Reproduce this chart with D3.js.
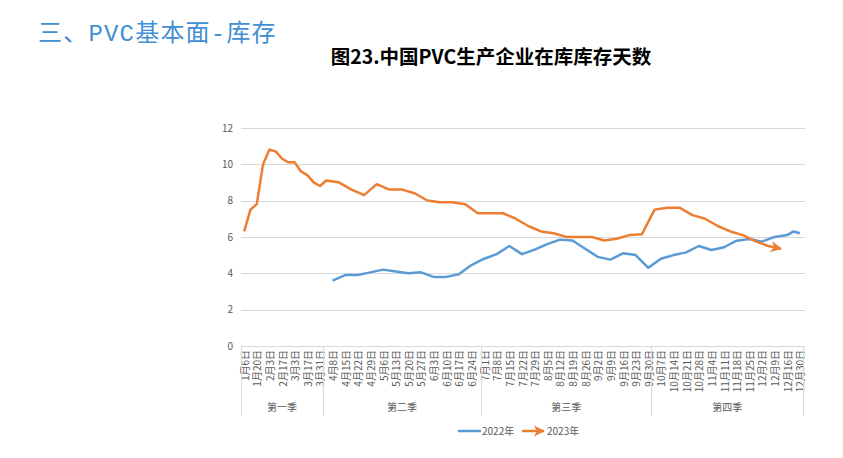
<!DOCTYPE html>
<html><head><meta charset="utf-8">
<script src="https://cdn.jsdelivr.net/npm/d3@7"></script>
<style>
html,body{margin:0;padding:0;background:#fff;}
svg{display:block;font-family:"Noto Sans CJK SC","Noto Sans",sans-serif;}
</style></head>
<body>
<svg id="chart" width="843" height="458"></svg>
<script>
// merged weekly category list (2023 and 2022 report dates)
const categories = [
 "1月6日","1月13日","1月20日","1月27日","2月3日","2月10日","2月17日","2月24日","3月3日","3月10日","3月17日","3月24日","3月31日",
 "4月7日","4月8日","4月14日","4月15日","4月21日","4月22日","4月28日","4月29日","5月5日","5月6日","5月12日","5月13日","5月19日","5月20日","5月26日","5月27日","6月2日","6月3日","6月9日","6月10日","6月16日","6月17日","6月23日","6月24日","6月30日",
 "7月1日","7月7日","7月8日","7月14日","7月15日","7月21日","7月22日","7月28日","7月29日","8月4日","8月5日","8月11日","8月12日","8月18日","8月19日","8月25日","8月26日","9月1日","9月2日","9月8日","9月9日","9月15日","9月16日","9月22日","9月23日","9月29日","9月30日",
 "10月6日","10月7日","10月13日","10月14日","10月20日","10月21日","10月27日","10月28日","11月3日","11月4日","11月10日","11月11日","11月17日","11月18日","11月24日","11月25日","12月1日","12月2日","12月8日","12月9日","12月15日","12月16日","12月23日","12月30日"
];
const quarterNames = ["第一季","第二季","第三季","第四季"];
const yTicks = [0,2,4,6,8,10,12];

const dates2023 = [
 "1月6日","1月13日","1月20日","1月27日","2月3日","2月10日","2月17日","2月24日","3月3日","3月10日","3月17日","3月24日","3月31日",
 "4月7日","4月14日","4月21日","4月28日","5月5日","5月12日","5月19日","5月26日","6月2日","6月9日","6月16日","6月23日","6月30日",
 "7月7日","7月14日","7月21日","7月28日","8月4日","8月11日","8月18日","8月25日","9月1日","9月8日","9月15日","9月22日","9月29日",
 "10月6日","10月13日","10月20日","10月27日","11月3日","11月10日","11月17日","11月24日","12月1日","12月8日","12月15日"
];
const values2023 = [
 6.3,7.5,7.8,10.0,10.8,10.7,10.3,10.1,10.1,9.6,9.4,9.0,8.8,
 9.1,9.0,8.6,8.3,8.9,8.6,8.6,8.4,8.0,7.9,7.9,7.8,7.3,
 7.3,7.3,7.0,6.6,6.3,6.2,6.0,6.0,6.0,5.8,5.9,6.1,6.15,
 7.5,7.6,7.6,7.2,7.0,6.6,6.3,6.1,5.75,5.5,5.35
];
const dates2022 = [
 "4月8日","4月15日","4月22日","4月29日","5月6日","5月13日","5月20日","5月27日","6月3日","6月10日","6月17日","6月24日",
 "7月1日","7月8日","7月15日","7月22日","7月29日","8月5日","8月12日","8月19日","8月26日","9月2日","9月9日","9月16日","9月23日","9月30日",
 "10月7日","10月14日","10月21日","10月28日","11月4日","11月11日","11月18日","11月25日","12月2日","12月9日","12月16日","12月23日","12月30日"
];
const values2022 = [
 3.6,3.9,3.9,4.05,4.2,4.1,4.0,4.05,3.8,3.8,3.95,4.45,
 4.8,5.05,5.5,5.05,5.3,5.6,5.85,5.8,5.35,4.9,4.75,5.1,5.0,4.3,
 4.8,5.0,5.15,5.5,5.28,5.43,5.79,5.88,5.74,6.0,6.1,6.3,6.2
];
const seriesNames = ["2022年","2023年"];
const colors = ["#5b9bd5","#ed7d31"];

const svg = d3.select("#chart");
const plot = {left:241, right:803, top:128, bottom:346};

const x = d3.scaleBand().domain(categories).range([plot.left, plot.right]).padding(0);
const bw = x.bandwidth();
const cx = c => x(c) + bw/2;
const y = d3.scaleLinear().domain([0,12]).range([plot.bottom, plot.top - 0.2]);

// header & title
svg.append("text").attr("x",38).attr("y",41).attr("font-size",24)
  .attr("font-family","'Liberation Mono','Noto Sans CJK SC',monospace")
  .attr("letter-spacing",1.2)
  .attr("fill","#3f8fd5").text("三、PVC基本面-库存");
svg.append("text").attr("x",491).attr("y",64).attr("text-anchor","middle")
  .attr("font-size",19.5).attr("font-weight","bold").attr("fill","#000")
  .text("图23.中国PVC生产企业在库库存天数");

// gridlines
svg.append("g").selectAll("line").data(yTicks).join("line")
  .attr("x1",plot.left).attr("x2",plot.right+2)
  .attr("y1",d=>Math.round(y(d))+0.5).attr("y2",d=>Math.round(y(d))+0.5)
  .attr("stroke","#d9d9d9").attr("stroke-width",1);

// y axis labels
const yAxis = d3.axisLeft(y).tickValues(yTicks).tickSize(0).tickPadding(8);
const gy = svg.append("g").attr("transform",`translate(${plot.left},0)`).call(yAxis);
gy.select(".domain").remove();
gy.selectAll("text").attr("font-size",10).attr("fill","#595959")
  .attr("font-family","'Noto Sans CJK SC','Noto Sans',sans-serif");

// x axis: date labels (every other category)
const xAxis = d3.axisBottom(x).tickSize(0).tickFormat((d,i)=> i%2===0 ? d : "");
const gx = svg.append("g").attr("transform",`translate(0,${plot.bottom})`).call(xAxis);
gx.select(".domain").remove();
gx.selectAll("text")
  .attr("font-size",10).attr("fill","#595959")
  .attr("font-family","'Noto Sans CJK SC','Noto Sans',sans-serif")
  .attr("transform","rotate(-90)")
  .attr("text-anchor","end")
  .attr("x",-4).attr("y",1).attr("dy","0.35em");

// quarter groups
const quarterOf = c => Math.ceil(parseInt(c)/3) - 1;
const groups = quarterNames.map((q,qi)=>{
  const cs = categories.filter(c=>quarterOf(c)===qi);
  return {name:q, start:x(cs[0]), end:x(cs[cs.length-1])+bw};
});
const bounds = [plot.left, ...groups.map(g=>g.end)];
svg.append("g").selectAll("line").data(bounds).join("line")
  .attr("x1",d=>Math.round(d)+0.5).attr("x2",d=>Math.round(d)+0.5)
  .attr("y1",plot.bottom).attr("y2",416)
  .attr("stroke","#d9d9d9").attr("stroke-width",1);
svg.append("g").selectAll("text").data(groups).join("text")
  .attr("x",d=>(d.start+d.end)/2).attr("y",411).attr("text-anchor","middle")
  .attr("font-size",10).attr("fill","#595959").text(d=>d.name);

// arrow marker
const defs = svg.append("defs");
defs.append("marker").attr("id","arrow").attr("viewBox","0 0 10 10")
  .attr("refX",9).attr("refY",5).attr("markerWidth",4.6).attr("markerHeight",4.6)
  .attr("markerUnits","strokeWidth").attr("orient","auto")
  .append("path").attr("d","M0,0 L10,5 L0,10 L3,5 Z").attr("fill",colors[1]);

const line = d3.line().x(d=>cx(d[0])).y(d=>y(d[1]));
const s2022 = dates2022.map((d,i)=>[d,values2022[i]]);
const s2023 = dates2023.map((d,i)=>[d,values2023[i]]);

svg.append("path").datum(s2022).attr("d",line).attr("fill","none")
  .attr("stroke",colors[0]).attr("stroke-width",2.5).attr("stroke-linejoin","round");
svg.append("path").datum(s2023).attr("d",line).attr("fill","none")
  .attr("stroke",colors[1]).attr("stroke-width",2.5).attr("stroke-linejoin","round")
  .attr("marker-end","url(#arrow)");

// legend
const lg = svg.append("g");
lg.append("line").attr("x1",458).attr("x2",481).attr("y1",431).attr("y2",431)
  .attr("stroke",colors[0]).attr("stroke-width",2.5);
lg.append("text").attr("x",482).attr("y",435).attr("font-size",10).attr("fill","#595959").text(seriesNames[0]);
lg.append("line").attr("x1",522).attr("x2",544).attr("y1",431).attr("y2",431)
  .attr("stroke",colors[1]).attr("stroke-width",2.5).attr("marker-end","url(#arrow)");
lg.append("text").attr("x",547).attr("y",435).attr("font-size",10).attr("fill","#595959").text(seriesNames[1]);
</script>
</body></html>
